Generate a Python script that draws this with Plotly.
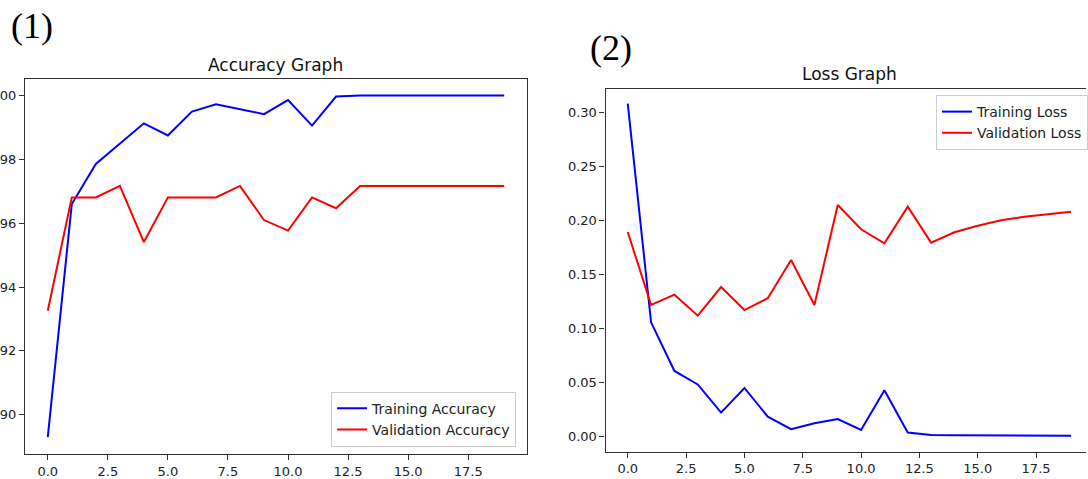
import plotly.graph_objects as go

W, H = 1088, 479

epochs = list(range(20))
train_acc = [0.893, 0.966, 0.9786, 0.9851, 0.9913, 0.9875, 0.995, 0.9973, 0.9957, 0.9942,
             0.9986, 0.9906, 0.9997, 1.0, 1.0, 1.0, 1.0, 1.0, 1.0, 1.0]
val_acc = [0.9326, 0.9681, 0.9681, 0.9717, 0.9541, 0.9681, 0.9681, 0.9681, 0.9717, 0.961,
           0.9577, 0.9681, 0.9647, 0.9717, 0.9717, 0.9717, 0.9717, 0.9717, 0.9717, 0.9717]
train_loss = [0.308, 0.1055, 0.0605, 0.048, 0.0219, 0.0447, 0.0182, 0.0065, 0.012, 0.016,
              0.0058, 0.0426, 0.0034, 0.0012, 0.0009, 0.0007, 0.0006, 0.0005, 0.0004, 0.0004]
val_loss = [0.1892, 0.1216, 0.1311, 0.1117, 0.1382, 0.1169, 0.1278, 0.1632, 0.1216, 0.2142,
            0.1917, 0.1787, 0.2126, 0.1793, 0.1889, 0.195, 0.2, 0.2033, 0.2056, 0.208]

acc_ticks = [0.90, 0.92, 0.94, 0.96, 0.98, 1.00]
loss_ticks = [0.00, 0.05, 0.10, 0.15, 0.20, 0.25, 0.30]
x_ticks = [0.0, 2.5, 5.0, 7.5, 10.0, 12.5, 15.0, 17.5]

BLUE = "#0000ff"
RED = "#ff0000"
AX = "#333333"
FONT = "DejaVu Sans"

def px(x):
    return x / W

def py(y):
    return 1 - y / H

fig = go.Figure()
fig.add_trace(go.Scatter(x=epochs, y=train_acc, mode="lines", name="Training Accuracy",
                         line=dict(color=BLUE, width=2), xaxis="x", yaxis="y", legend="legend"))
fig.add_trace(go.Scatter(x=epochs, y=val_acc, mode="lines", name="Validation Accuracy",
                         line=dict(color=RED, width=2), xaxis="x", yaxis="y", legend="legend"))
fig.add_trace(go.Scatter(x=epochs, y=train_loss, mode="lines", name="Training Loss",
                         line=dict(color=BLUE, width=2), xaxis="x2", yaxis="y2", legend="legend2"))
fig.add_trace(go.Scatter(x=epochs, y=val_loss, mode="lines", name="Validation Loss",
                         line=dict(color=RED, width=2), xaxis="x2", yaxis="y2", legend="legend2"))

axis_common = dict(showline=True, linecolor=AX, linewidth=1.2, ticks="outside", ticklen=5,
                   tickwidth=1, tickcolor=AX, showgrid=False, zeroline=False,
                   tickfont=dict(family=FONT, size=13, color="#222"))

fig.update_layout(
    width=W, height=H, margin=dict(l=0, r=0, t=0, b=0),
    paper_bgcolor="white", plot_bgcolor="white",
    font=dict(family=FONT, size=13, color="#222"),
    xaxis=dict(domain=[px(25), px(528)], range=[-0.95, 19.95], anchor="y", mirror=True,
               tickvals=x_ticks, tickformat=".1f", **axis_common),
    yaxis=dict(domain=[py(454), py(79)], range=[0.8877, 1.0052], anchor="x", mirror=True,
               tickvals=acc_ticks, tickformat=".2f", automargin=False, **axis_common),
    xaxis2=dict(domain=[px(606.7), 1.0], range=[-0.95, 19.64], anchor="y2", mirror=True,
                tickvals=x_ticks, tickformat=".1f", **axis_common),
    yaxis2=dict(domain=[py(451.7), py(89)], range=[-0.0143, 0.3216], anchor="x2", mirror=False,
                tickvals=loss_ticks, tickformat=".2f", **axis_common),
    legend=dict(x=px(331.7), y=py(446.7), xanchor="left", yanchor="bottom",
                bgcolor="white", bordercolor="#cccccc", borderwidth=1,
                font=dict(family=FONT, size=14, color="#222")),
    legend2=dict(x=px(937.7), y=py(95), xanchor="left", yanchor="top",
                 bgcolor="white", bordercolor="#cccccc", borderwidth=1,
                 font=dict(family=FONT, size=14, color="#222")),
    showlegend=True,
    annotations=[
        dict(text="Accuracy Graph", x=px(276.5), y=py(65), xref="paper", yref="paper",
             xanchor="center", yanchor="middle", showarrow=False,
             font=dict(family=FONT, size=17, color="#111")),
        dict(text="Loss Graph", x=px(851), y=py(74), xref="paper", yref="paper",
             xanchor="center", yanchor="middle", showarrow=False,
             font=dict(family=FONT, size=17, color="#111")),
        dict(text="(1)", x=px(32), y=py(26), xref="paper", yref="paper",
             xanchor="center", yanchor="middle", showarrow=False,
             font=dict(family="Liberation Serif", size=36, color="#000")),
        dict(text="(2)", x=px(612), y=py(48), xref="paper", yref="paper",
             xanchor="center", yanchor="middle", showarrow=False,
             font=dict(family="Liberation Serif", size=36, color="#000")),
    ],
)

fig.write_html("out.html", config={"displayModeBar": False},
               post_script="document.body.style.margin='0';document.body.style.overflow='hidden';")
